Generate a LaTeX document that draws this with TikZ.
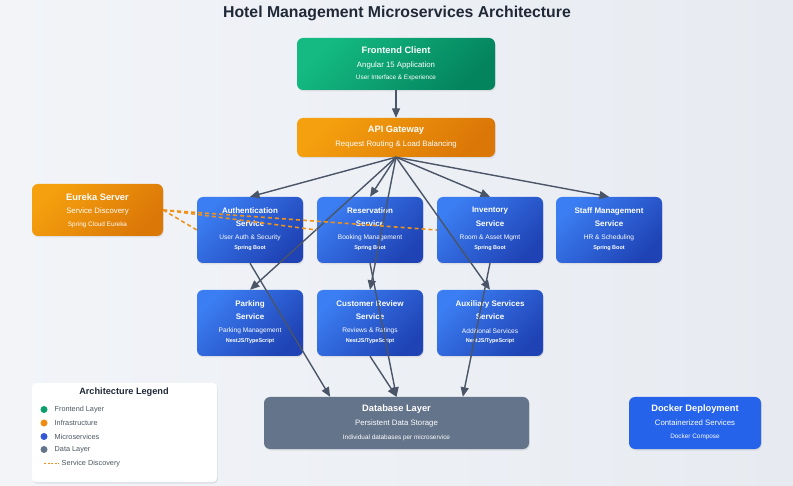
\documentclass[tikz,border=0pt]{standalone}
\usepackage{fontspec}
\setmainfont{Liberation Sans}
\usetikzlibrary{arrows.meta,shadows,calc}

\definecolor{bgA}{HTML}{F2F4F8}
\definecolor{bgB}{HTML}{E7EBF1}
\definecolor{grnA}{HTML}{14BA82}
\definecolor{grnB}{HTML}{04845D}
\definecolor{orgA}{HTML}{F5A00E}
\definecolor{orgB}{HTML}{DB7707}
\definecolor{bluA}{HTML}{3B7DF2}
\definecolor{bluB}{HTML}{1F43B5}
\definecolor{slate}{HTML}{64748B}
\definecolor{dock}{HTML}{2563EB}
\definecolor{edgec}{HTML}{4A5568}
\definecolor{ttl}{HTML}{1F2937}
\definecolor{lgtxt}{HTML}{4B5563}
\definecolor{disc}{HTML}{F0921A}
\definecolor{lgG}{HTML}{0E9F6E}
\definecolor{lgO}{HTML}{F08C10}
\definecolor{lgB}{HTML}{3358D4}
\definecolor{lgS}{HTML}{64748B}

\newcommand\fs[1]{\fontsize{#1}{#1}\selectfont}

\begin{document}
\begin{tikzpicture}[x=1pt,y=-1pt,
  boxbase/.style={rounded corners=6pt, inner sep=0pt, draw=none,
    drop shadow={opacity=0.16, shadow xshift=0.8pt, shadow yshift=-1.5pt}},
  grnbox/.style={boxbase, top color=grnA, bottom color=grnB, shading angle=45},
  orgbox/.style={boxbase, top color=orgA, bottom color=orgB, shading angle=45},
  svcbox/.style={boxbase, top color=bluA, bottom color=bluB, shading angle=45,
    minimum width=106pt, minimum height=66pt},
  dbbox/.style={boxbase, fill=slate},
  dockbox/.style={boxbase, fill=dock},
  wt/.style={text=white, inner sep=0pt},
  ttlA/.style={wt, font=\fs{9.3}\bfseries},
  ttlS/.style={wt, font=\fs{8}\bfseries},
  subA/.style={wt, font=\fs{7.8}},
  subS/.style={wt, font=\fs{6.6}},
  tinyA/.style={wt, font=\fs{6.4}},
  tech/.style={wt, font=\fs{5.5}\bfseries},
  arr/.style={draw=edgec, line width=1.4pt, -{Triangle[length=9.5pt,width=8pt]}},
  discl/.style={draw=disc, line width=1.6pt, dash pattern=on 4pt off 3pt},
  lgdot/.style={circle, inner sep=0pt, minimum size=7pt},
  lgt/.style={anchor=west, inner sep=0pt, text=lgtxt, font=\fs{7.3}}
]
\useasboundingbox (0,0) rectangle (793,486);
\shade[left color=bgA, right color=bgB] (0,0) rectangle (793,486);

% title
\node[inner sep=0pt, text=ttl, font=\fs{15.8}\bfseries] (title) at (397,13) {Hotel Management Microservices Architecture};

% frontend
\node[grnbox, minimum width=198pt, minimum height=52pt] (fe) at (396,64) {};
\node[ttlA] (feT) at (396,50.5) {Frontend Client};
\node[subA] (feS) at (396,65) {Angular 15 Application};
\node[tinyA] (feU) at (396,78) {User Interface \& Experience};

% gateway
\node[orgbox, minimum width=198pt, minimum height=39pt] (gw) at (396,137.5) {};
\node[ttlA] (gwT) at (396,130) {API Gateway};
\node[subA] (gwS) at (396,144) {Request Routing \& Load Balancing};

% eureka
\node[orgbox, minimum width=131pt, minimum height=52pt] (eur) at (97.5,210) {};
\node[ttlA] (eurT) at (97.5,197) {Eureka Server};
\node[subA] (eurS) at (97.5,211) {Service Discovery};
\node[tinyA] (eurU) at (97.5,225) {Spring Cloud Eureka};

% services row 1
\node[svcbox] (auth) at (250,230) {};
\node[svcbox] (res) at (370,230) {};
\node[svcbox] (inv) at (490,230) {};
\node[svcbox] (staff) at (609,230) {};
% services row 2
\node[svcbox] (park) at (250,323) {};
\node[svcbox] (rev) at (370,323) {};
\node[svcbox] (aux) at (490,323) {};

\foreach \n/\x/\a/\b/\c/\d in {
  authL/250/Authentication/Service/User Auth \& Security/Spring Boot,
  resL/370/Reservation/Service/Booking Management/Spring Boot,
  invL/490/Inventory/Service/Room \& Asset Mgmt/Spring Boot,
  staffL/609/Staff Management/Service/HR \& Scheduling/Spring Boot}{
  \node[ttlS] (\n1) at (\x,211) {\a};
  \node[ttlS] (\n2) at (\x,224) {\b};
  \node[subS] (\n3) at (\x,237.5) {\c};
  \node[tech] (\n4) at (\x,248) {\d};
}
\foreach \n/\x/\a/\b/\c/\d in {
  parkL/250/Parking/Service/Parking Management/NestJS\slash TypeScript,
  revL/370/Customer Review/Service/Reviews \& Ratings/NestJS\slash TypeScript,
  auxL/490/Auxiliary Services/Service/Additional Services/NestJS\slash TypeScript}{
  \node[ttlS] (\n1) at (\x,304) {\a};
  \node[ttlS] (\n2) at (\x,317) {\b};
  \node[subS] (\n3) at (\x,331) {\c};
  \node[tech] (\n4) at (\x,341.5) {\d};
}

% database
\node[dbbox, minimum width=265pt, minimum height=52pt] (db) at (396.5,423) {};
\node[ttlA] (dbT) at (396.5,409) {Database Layer};
\node[subA] (dbS) at (396.5,423) {Persistent Data Storage};
\node[tinyA] (dbU) at (396.5,437.5) {Individual databases per microservice};

% docker
\node[dockbox, minimum width=132pt, minimum height=52pt] (dock) at (695,423) {};
\node[ttlA] (dkT) at (695,409) {Docker Deployment};
\node[subA] (dkS) at (695,423) {Containerized Services};
\node[tinyA] (dkU) at (695,437) {Docker Compose};

% legend
\node[boxbase, rounded corners=4pt, fill=white, minimum width=185pt, minimum height=99pt] (leg) at (124.5,432.5) {};
\node[inner sep=0pt, text=ttl, font=\fs{9.2}\bfseries] (legT) at (124,392.5) {Architecture Legend};
\node[lgdot, fill=lgG] (d1) at (44,409.5) {};
\node[lgt] (t1) at (54.5,409.5) {Frontend Layer};
\node[lgdot, fill=lgO] (d2) at (44,423) {};
\node[lgt] (t2) at (54.5,423) {Infrastructure};
\node[lgdot, fill=lgB] (d3) at (44,436.5) {};
\node[lgt] (t3) at (54.5,436.5) {Microservices};
\node[lgdot, fill=lgS] (d4) at (44,449.5) {};
\node[lgt] (t4) at (54.5,449.5) {Data Layer};
\coordinate (ds1) at (44,463.5);
\coordinate (ds2) at (59,463.5);
\draw[draw=disc, line width=1.3pt, dash pattern=on 2pt off 1.5pt] (ds1) -- (ds2);
\node[lgt] (t5) at (61.5,463.5) {Service Discovery};

% connectors
\draw[arr] (fe.south) -- (gw.north);
\foreach \t in {auth,res,inv,staff,park,rev,aux}{
  \draw[arr] (gw.south) -- (\t.north);
}
\coordinate (db1) at ($(db.north west)!0.25!(db.north east)$);
\coordinate (db2) at ($(db.north west)!0.5!(db.north east)$);
\coordinate (db3) at ($(db.north west)!0.75!(db.north east)$);
\draw[arr] (auth.south) -- (db1);
\draw[arr] (res.south) -- (db2);
\draw[arr] (rev.south) -- (db2);
\draw[arr] (inv.south) -- (db3);

\draw[discl] (eur.east) -- (auth.west);
\draw[discl] (eur.east) -- (res.west);
\draw[discl] (eur.east) -- (inv.west);
\end{tikzpicture}
\end{document}
